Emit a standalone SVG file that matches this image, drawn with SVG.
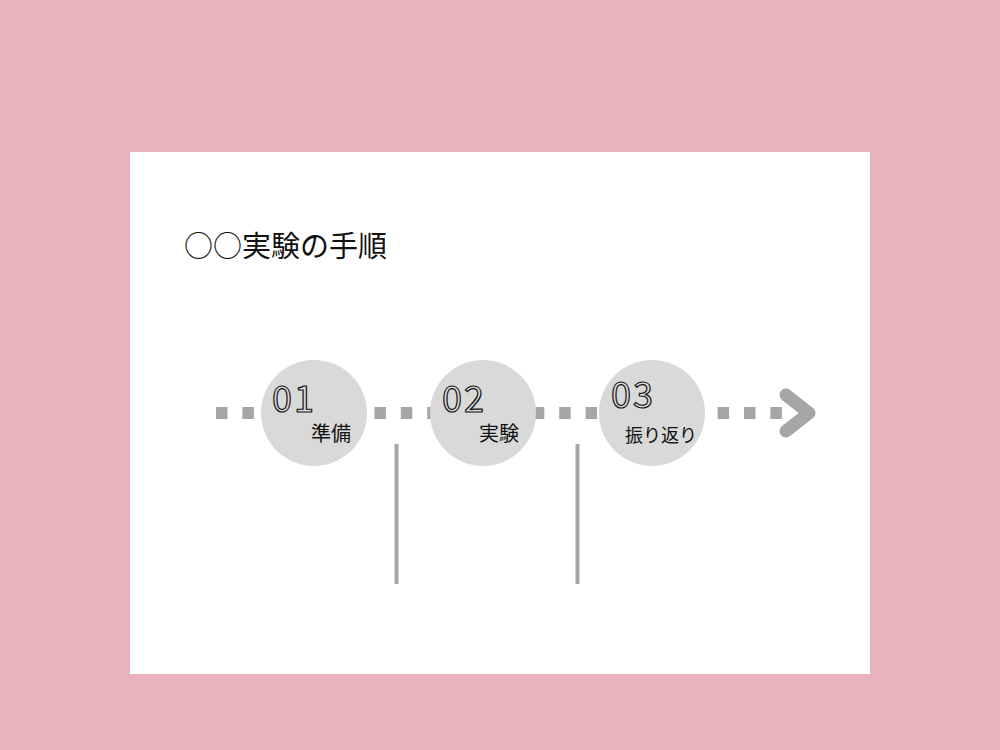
<svg xmlns="http://www.w3.org/2000/svg" width="1000" height="750" viewBox="0 0 1000 750">
<style>
.node circle{fill:#d9d9d9}
.num{font-family:"Noto Sans CJK JP","Liberation Sans",sans-serif;font-size:36px;letter-spacing:2px;fill:none;stroke:#111;stroke-width:1.2}
.lbl{font-family:"Noto Sans CJK JP",sans-serif;font-size:20px;fill:#111}
.lbl3{font-family:"Noto Sans CJK JP",sans-serif;font-size:18px;fill:#111}
.title{font-family:"Noto Sans CJK JP",sans-serif;font-size:29px;fill:#111}
</style>
<rect x="0" y="0" width="1000" height="750" fill="#eab2bc"/>
<rect x="130" y="152" width="740" height="522" fill="#ffffff"/>
<text class="title" x="184" y="257">○○実験の手順</text>
<g id="connectors">
<line x1="216" y1="413" x2="785" y2="413" stroke="#a6a6a6" stroke-width="12" stroke-dasharray="11.5 14.9"/>
<polyline points="786,395 809,413 786,431" fill="none" stroke="#a6a6a6" stroke-width="13" stroke-linecap="round" stroke-linejoin="round"/>
<line x1="396.5" y1="444" x2="396.5" y2="584" stroke="#a6a6a6" stroke-width="4"/>
<line x1="577.5" y1="444" x2="577.5" y2="584" stroke="#a6a6a6" stroke-width="4"/>
</g>
<g id="step1" class="node">
<circle cx="314" cy="413" r="53"/>
<text class="num" x="272" y="412">01</text>
<text class="lbl" x="311" y="441">準備</text>
</g>
<g id="step2" class="node">
<circle cx="483" cy="413" r="53"/>
<text class="num" x="442" y="412">02</text>
<text class="lbl" x="479" y="441">実験</text>
</g>
<g id="step3" class="node">
<circle cx="652" cy="413" r="53"/>
<text class="num" x="611" y="408">03</text>
<text class="lbl3" x="625" y="442">振り返り</text>
</g>
</svg>
